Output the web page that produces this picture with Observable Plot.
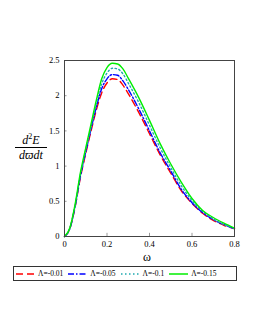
<!DOCTYPE html>
<html>
<head>
<meta charset="utf-8">
<script src="https://cdn.jsdelivr.net/npm/d3@7"></script>
<script src="https://cdn.jsdelivr.net/npm/@observablehq/plot@0.6"></script>
<style>
  html, body { margin: 0; padding: 0; background: #fff; }
  #wrap { position: relative; width: 258px; height: 333px; font-family: "Liberation Serif", Times, "DejaVu Serif", serif; }
  #ylab { position: absolute; left: 15px; top: 134px; width: 32px; text-align: center; font-style: italic; font-size: 12px; line-height: 12px; color: #000; }
  #ylab .num { border-bottom: 1px solid #000; padding-bottom: 1px; margin-bottom: 1px; }
  #ylab sup { font-size: 8px; font-style: normal; vertical-align: 5px; line-height: 0; }
  #xlab { position: absolute; left: 143px; top: 250px; font-size: 12px; color: #000; }
  #legend { position: absolute; left: 13px; top: 266px; width: 222px; height: 13px; border: 1px solid #333; box-sizing: content-box; display: flex; align-items: center; font-size: 7.5px; white-space: nowrap; }
  #legend .item { display: flex; align-items: center; }
  #legend svg { display: block; margin: 0 3px 0 2px; }
</style>
</head>
<body>
<div id="wrap">
  <div id="plot"></div>
  <div id="ylab"><div class="num">d<sup>2</sup>E</div><div>dϖdt</div></div>
  <div id="xlab">ω</div>
  <div id="legend"></div>
</div>
<script>
const omega = [0, 0.025, 0.05, 0.075, 0.1, 0.125, 0.15, 0.175, 0.2, 0.225, 0.25, 0.275, 0.3, 0.35, 0.4, 0.45, 0.5, 0.55, 0.6, 0.65, 0.7, 0.75, 0.8];
const lam001 = [0, 0.11, 0.42, 0.84, 1.18, 1.50, 1.80, 2.04, 2.18, 2.24, 2.23, 2.15, 2.03, 1.76, 1.46, 1.16, 0.90, 0.65, 0.47, 0.33, 0.23, 0.16, 0.11];
const lam005 = [0, 0.11, 0.43, 0.86, 1.20, 1.53, 1.84, 2.10, 2.24, 2.30, 2.29, 2.21, 2.09, 1.81, 1.50, 1.19, 0.93, 0.67, 0.48, 0.34, 0.24, 0.17, 0.11];
const lam010 = [0, 0.115, 0.44, 0.88, 1.23, 1.56, 1.89, 2.17, 2.32, 2.39, 2.38, 2.31, 2.18, 1.90, 1.58, 1.26, 0.98, 0.72, 0.51, 0.36, 0.25, 0.17, 0.115];
const lam015 = [0, 0.12, 0.46, 0.91, 1.26, 1.60, 1.94, 2.24, 2.40, 2.46, 2.45, 2.38, 2.25, 1.97, 1.65, 1.32, 1.03, 0.77, 0.54, 0.37, 0.27, 0.19, 0.12];

const seriesNames = ["Λ=-0.01", "Λ=-0.05", "Λ=-0.1", "Λ=-0.15"];
const seriesValues = [lam001, lam005, lam010, lam015];
const seriesColors = ["#ff0000", "#0000ff", "#1fa9b0", "#00ee00"];
const seriesDash = ["7,4", "6,2,1.5,2", "1.5,2.5", null];

const xTicks = [0, 0.2, 0.4, 0.6, 0.8];
const xTickLabels = ["0", "0.2", "0.4", "0.6", "0.8"];
const yTicks = [0, 0.5, 1, 1.5, 2, 2.5];
const yTickLabels = ["0", "0.5", "1", "1.5", "2", "2.5"];

const marks = [];
seriesValues.forEach((vals, i) => {
  const data = omega.map((w, j) => ({w, v: vals[j]}));
  marks.push(Plot.line(data, {
    x: "w", y: "v", curve: "monotone-x",
    stroke: seriesColors[i], strokeWidth: 1.4,
    strokeDasharray: seriesDash[i] || undefined
  }));
});
marks.push(Plot.ruleX(xTicks, {y1: 0, y2: 0.045, stroke: "#999", strokeWidth: 1}));
marks.push(Plot.ruleY(yTicks, {x1: 0, x2: 0.012, stroke: "#999", strokeWidth: 1}));
marks.push(Plot.frame({stroke: "#444", strokeWidth: 1}));
marks.push(Plot.axisX(xTicks, {tickSize: 0, tickPadding: 4, tickFormat: (d, i) => xTickLabels[i], label: null, fontSize: 8.5}));
marks.push(Plot.axisY(yTicks, {tickSize: 0, tickPadding: 5, tickFormat: (d, i) => yTickLabels[i], label: null, fontSize: 8.5}));

const chart = Plot.plot({
  width: 258,
  height: 262,
  marginLeft: 64,
  marginRight: 24,
  marginTop: 60,
  marginBottom: 26,
  x: {domain: [0, 0.8]},
  y: {domain: [0, 2.5]},
  style: {fontFamily: "Liberation Serif, Times, serif", fontSize: "8.5px", color: "#000", background: "#fff"},
  marks
});
document.getElementById("plot").appendChild(chart);

const legend = document.getElementById("legend");
seriesNames.forEach((name, i) => {
  const item = document.createElement("div");
  item.className = "item";
  const ns = "http://www.w3.org/2000/svg";
  const svg = document.createElementNS(ns, "svg");
  svg.setAttribute("width", "19");
  svg.setAttribute("height", "6");
  const ln = document.createElementNS(ns, "line");
  ln.setAttribute("x1", "0"); ln.setAttribute("x2", "19");
  ln.setAttribute("y1", "3"); ln.setAttribute("y2", "3");
  ln.setAttribute("stroke", seriesColors[i]);
  ln.setAttribute("stroke-width", "1.5");
  if (seriesDash[i]) ln.setAttribute("stroke-dasharray", seriesDash[i]);
  svg.appendChild(ln);
  item.appendChild(svg);
  const t = document.createElement("span");
  t.textContent = name;
  item.appendChild(t);
  item.style.marginRight = i < seriesNames.length - 1 ? "3px" : "0";
  legend.appendChild(item);
});
</script>
</body>
</html>
